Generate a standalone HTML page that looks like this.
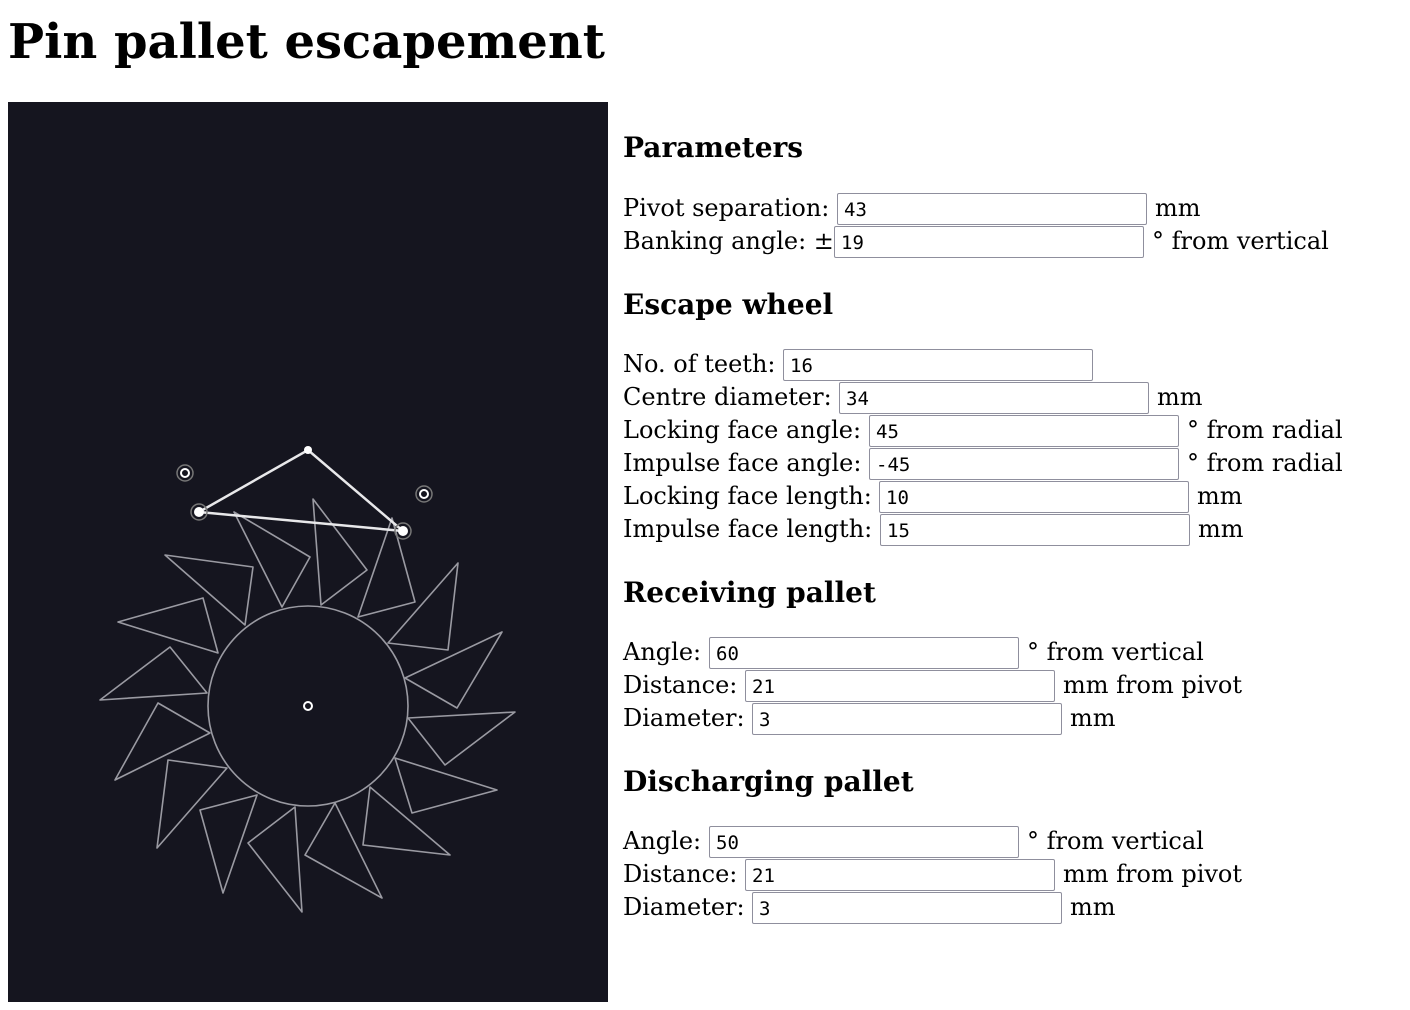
<!DOCTYPE html>
<html><head><meta charset="utf-8"><style>
html,body{margin:0;padding:0;background:#fff;width:1410px;height:1010px;overflow:hidden;}
body{font-family:"DejaVu Serif","Liberation Serif",serif;color:#000;position:relative;}
.a{position:absolute;white-space:nowrap;}
h1{position:absolute;left:8px;top:10px;margin:0;font-size:48px;font-weight:bold;line-height:64px;}
h3{position:absolute;left:623px;margin:0;font-size:28px;font-weight:bold;line-height:34px;}
.l{position:absolute;left:623px;font-size:24px;line-height:32px;white-space:nowrap;}
.i{position:absolute;border:1px solid #8f8f9d;border-radius:2px;background:#fff;font-family:"DejaVu Sans Mono","Liberation Mono",monospace;font-size:19px;line-height:32px;padding-left:6px;box-sizing:border-box;width:310px;height:32px;}
.s{position:absolute;font-size:24px;line-height:32px;white-space:nowrap;}
</style></head><body>
<h1>Pin pallet escapement</h1>
<svg class="a" style="left:8px;top:102px" width="600" height="900" viewBox="8 102 600 900">
<rect x="8" y="102" width="600" height="900" fill="#15151f"/>
<g fill="none" stroke="#9a9aa2" stroke-width="1.6" stroke-linejoin="round">
<circle cx="308" cy="706" r="100"/>
<polygon points="282,607 234,512 310,557"/>
<polygon points="321,605 313,499 367,570"/>
<polygon points="358,617 392,518 415,602"/>
<polygon points="388,643 458,563 448,650"/>
<polygon points="405,678 502,632 457,708"/>
<polygon points="408,718 515,712 445,765"/>
<polygon points="395,758 497,790 412,813"/>
<polygon points="370,787 450,855 363,845"/>
<polygon points="335,803 382,898 305,855"/>
<polygon points="295,807 302,912 248,843"/>
<polygon points="257,795 223,893 200,810"/>
<polygon points="227,768 157,848 168,760"/>
<polygon points="210,733 115,780 158,703"/>
<polygon points="207,693 100,700 170,647"/>
<polygon points="218,653 118,622 203,598"/>
<polygon points="245,625 165,555 253,567"/>
</g>
<g stroke="#e8e8ea" stroke-width="2.5" fill="none">
<polyline points="199,512 308,450 403,531 199,512"/>
</g>
<circle cx="308" cy="450" r="4" fill="#fff"/>
<circle cx="199" cy="512" r="8" fill="none" stroke="#777" stroke-width="1.5"/>
<circle cx="199" cy="512" r="5" fill="#fff"/>
<circle cx="403" cy="531" r="8" fill="none" stroke="#777" stroke-width="1.5"/>
<circle cx="403" cy="531" r="5" fill="#fff"/>
<circle cx="185" cy="473" r="8" fill="none" stroke="#777" stroke-width="1.5"/>
<circle cx="185" cy="473" r="4" fill="none" stroke="#fff" stroke-width="2"/>
<circle cx="424" cy="494" r="8" fill="none" stroke="#777" stroke-width="1.5"/>
<circle cx="424" cy="494" r="4" fill="none" stroke="#fff" stroke-width="2"/>
<circle cx="308" cy="706" r="4" fill="none" stroke="#fff" stroke-width="2"/>
</svg>

<h3 style="top:131px">Parameters</h3>
<div class="l" style="top:192px">Pivot separation:</div><div class="i" style="left:837px;top:193px">43</div><div class="s" style="left:1155px;top:192px">mm</div>
<div class="l" style="top:225px">Banking angle: ±</div><div class="i" style="left:834px;top:226px">19</div><div class="s" style="left:1152px;top:225px">° from vertical</div>

<h3 style="top:288px">Escape wheel</h3>
<div class="l" style="top:348px">No. of teeth:</div><div class="i" style="left:783px;top:349px">16</div>
<div class="l" style="top:381px">Centre diameter:</div><div class="i" style="left:839px;top:382px">34</div><div class="s" style="left:1157px;top:381px">mm</div>
<div class="l" style="top:414px">Locking face angle:</div><div class="i" style="left:869px;top:415px">45</div><div class="s" style="left:1187px;top:414px">° from radial</div>
<div class="l" style="top:447px">Impulse face angle:</div><div class="i" style="left:869px;top:448px">-45</div><div class="s" style="left:1187px;top:447px">° from radial</div>
<div class="l" style="top:480px">Locking face length:</div><div class="i" style="left:879px;top:481px">10</div><div class="s" style="left:1197px;top:480px">mm</div>
<div class="l" style="top:513px">Impulse face length:</div><div class="i" style="left:880px;top:514px">15</div><div class="s" style="left:1198px;top:513px">mm</div>

<h3 style="top:576px">Receiving pallet</h3>
<div class="l" style="top:636px">Angle:</div><div class="i" style="left:709px;top:637px">60</div><div class="s" style="left:1027px;top:636px">° from vertical</div>
<div class="l" style="top:669px">Distance:</div><div class="i" style="left:745px;top:670px">21</div><div class="s" style="left:1063px;top:669px">mm from pivot</div>
<div class="l" style="top:702px">Diameter:</div><div class="i" style="left:752px;top:703px">3</div><div class="s" style="left:1070px;top:702px">mm</div>

<h3 style="top:765px">Discharging pallet</h3>
<div class="l" style="top:825px">Angle:</div><div class="i" style="left:709px;top:826px">50</div><div class="s" style="left:1027px;top:825px">° from vertical</div>
<div class="l" style="top:858px">Distance:</div><div class="i" style="left:745px;top:859px">21</div><div class="s" style="left:1063px;top:858px">mm from pivot</div>
<div class="l" style="top:891px">Diameter:</div><div class="i" style="left:752px;top:892px">3</div><div class="s" style="left:1070px;top:891px">mm</div>
</body></html>
